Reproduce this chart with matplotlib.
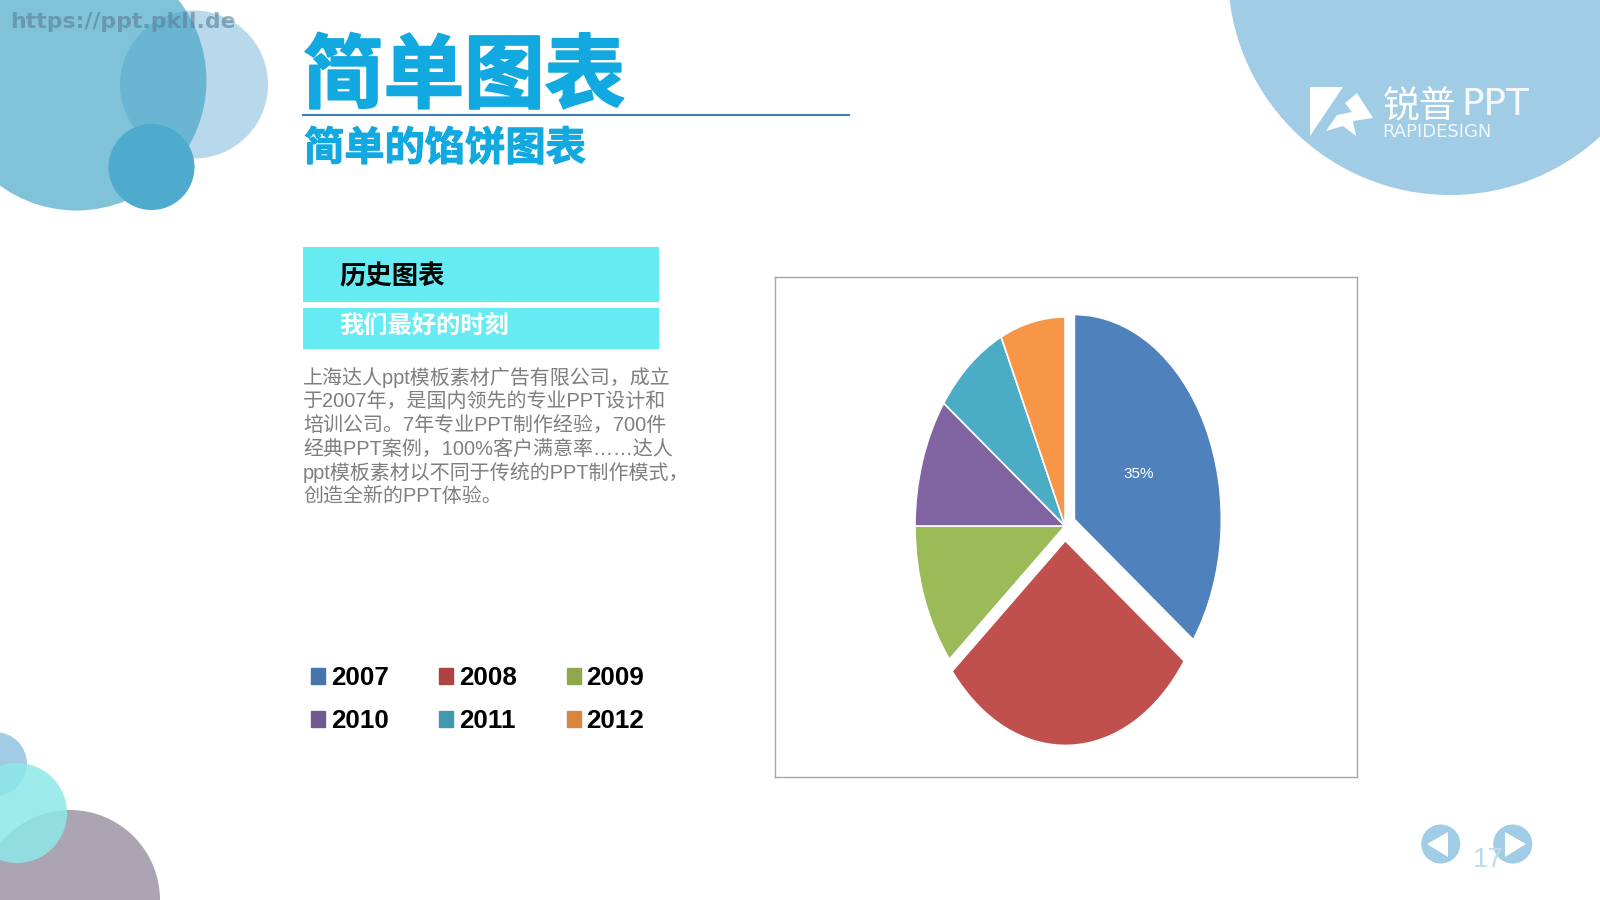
import matplotlib
matplotlib.use("Agg")
import matplotlib.pyplot as plt
import matplotlib.patheffects as pe
from matplotlib.patches import Circle, Polygon, Patch, Rectangle

plt.rcParams['font.family'] = ['Noto Sans CJK SC', 'DejaVu Sans']

years = ['2007', '2008', '2009', '2010', '2011', '2012']
shares = [35, 29, 11, 10, 8, 7]
explode = [0.07, 0.07, 0, 0, 0, 0]
pie_colors = ['#4F81BD', '#C0504D', '#9BBB59', '#8064A2', '#4BACC6', '#F79646']
legend_colors = ['#4675AE', '#AE4442', '#8FA84E', '#71588F', '#4198AF', '#DB843D']

body_lines = [
    '上海达人ppt模板素材广告有限公司，成立',
    '于2007年，是国内领先的专业PPT设计和',
    '培训公司。7年专业PPT制作经验，700件',
    '经典PPT案例，100%客户满意率……达人',
    'ppt模板素材以不同于传统的PPT制作模式，',
    '创造全新的PPT体验。',
]
body_y = [377, 401.5, 425, 449.5, 472.5, 496.5]

W, H = 1600, 900
fig = plt.figure(figsize=(16, 9), dpi=100, facecolor='white')

# slide decoration, one unit = one pixel
bg = fig.add_axes([0, 0, 1, 1])
bg.set_xlim(0, W)
bg.set_ylim(H, 0)
bg.axis('off')

# top left circles
bg.add_patch(Circle((194, 84.5), 74, color='#B8D9EB', lw=0))
bg.add_patch(Circle((76.5, 80.5), 130, color='#4AA8C8', alpha=0.7, lw=0))
bg.add_patch(Circle((151.5, 167), 43, color='#4EABCE', lw=0))
bg.text(10, 22, 'https://ppt.pkll.de', color='#5A7C96', alpha=0.6, fontsize=15.8,
        fontweight='bold', family='DejaVu Sans', va='center')

# top right circle and logo
bg.add_patch(Circle((1450, -27), 222, color='#A0CCE6', lw=0))
bg.add_patch(Polygon([(1310, 87), (1343, 87), (1310, 136)], color='white', lw=0))
bg.add_patch(Polygon([(1357, 93), (1373, 118), (1353, 121), (1356, 136), (1343, 126),
                      (1326, 131), (1337, 115), (1352, 112), (1345, 103)], color='white', lw=0))
bg.text(1383, 107, '锐普', color='white', fontsize=26.5, va='center')
bg.text(1461, 105, 'PPT', color='white', fontsize=27, va='center', family='DejaVu Sans', alpha=0.9)
bg.text(1382, 132, 'RAPIDESIGN', color='white', fontsize=13, va='center', family='DejaVu Sans', alpha=0.85)

# bottom left circles
bg.add_patch(Circle((70, 900), 90, color='#ABA5B3', lw=0))
bg.add_patch(Circle((-5, 764), 32, color='#A0CCE6', lw=0))
bg.add_patch(Circle((17, 813), 50, color='#8DE8E8', alpha=0.85, lw=0))

# nav buttons
bg.add_patch(Circle((1440.7, 844), 19.5, color='#A0CCE6', lw=0))
bg.add_patch(Circle((1512.7, 844), 19.5, color='#A0CCE6', lw=0))
bg.add_patch(Polygon([(1427, 844), (1448, 832), (1448, 857)], color='white', lw=0))
bg.add_patch(Polygon([(1505, 832), (1526, 844), (1505, 857)], color='white', lw=0))
bg.text(1488, 860, '17', color='#BFDCEB', fontsize=20, ha='center', va='center', family='Liberation Sans')

# titles, the source uses a heavier face than the installed one
bg.text(303, 78, '简单图表', color='#12A9E0', fontsize=58, fontweight='bold', va='center',
        path_effects=[pe.withStroke(linewidth=1.5, foreground='#12A9E0')])
bg.plot([303, 849], [114.5, 114.5], color='#3F7CB5', lw=1.5)
bg.text(304, 149, '简单的馅饼图表', color='#12A9E0', fontsize=29, fontweight='bold', va='center',
        path_effects=[pe.withStroke(linewidth=0.8, foreground='#12A9E0')])

# cyan headers
bg.add_patch(Rectangle((303, 247), 356, 55, color='#67EBF3', lw=0))
bg.add_patch(Rectangle((303, 308), 356, 41, color='#67EBF3', lw=0))
bg.text(339, 277, '历史图表', color='black', fontsize=19, fontweight='bold', va='center')
bg.text(339, 326, '我们最好的时刻', color='white', fontsize=17.5, fontweight='bold', va='center')

for line, y in zip(body_lines, body_y):
    bg.text(303, y, line, color='#7F7F7F', fontsize=14.4, va='center',
            family=['Liberation Sans', 'Noto Sans CJK SC'])

# pie chart in its framed box (stretched on purpose, the source is oval)
box_l, box_r, box_t, box_b = 775, 1357, 277, 777
ax = fig.add_axes([box_l / W, 1 - box_b / H, (box_r - box_l) / W, (box_b - box_t) / H])
wedges, texts, autotexts = ax.pie(
    shares, explode=explode, colors=pie_colors, startangle=90, counterclock=False,
    autopct=lambda p: '35%' if p > 30 else '', pctdistance=0.48,
    wedgeprops={'edgecolor': 'white', 'linewidth': 1.2})
# exploded slices are a bit smaller in the source
wedges[0].set_radius(0.98)
wedges[1].set_radius(0.98)
for t in autotexts:
    t.set_color('white')
    t.set_fontsize(11)
    t.set_family(['Liberation Sans Narrow', 'Liberation Sans'])
ax.set_aspect('auto')
ax.set_xlim(-290 / 150, 292 / 150)
ax.set_ylim(-251 / 209, 249 / 209)
ax.set_frame_on(True)
ax.set_facecolor('white')
for spine in ax.spines.values():
    spine.set_color('#A6A6A6')
    spine.set_linewidth(1.0)

# legend reads across the rows in the source
order = [0, 3, 1, 4, 2, 5]
handles = [Patch(color=legend_colors[i]) for i in order]
labels = [years[i] for i in order]
fig.legend(handles, labels, ncols=3, loc='upper left', bbox_to_anchor=(306 / W, 1 - 661 / H),
           frameon=False, prop={'family': 'Liberation Sans', 'weight': 'bold', 'size': 18.7},
           handlelength=0.54, handleheight=0.54, handletextpad=0.22, columnspacing=1.93,
           labelspacing=0.735, borderpad=0.2, borderaxespad=0)

fig.savefig('out.png', dpi=100)
